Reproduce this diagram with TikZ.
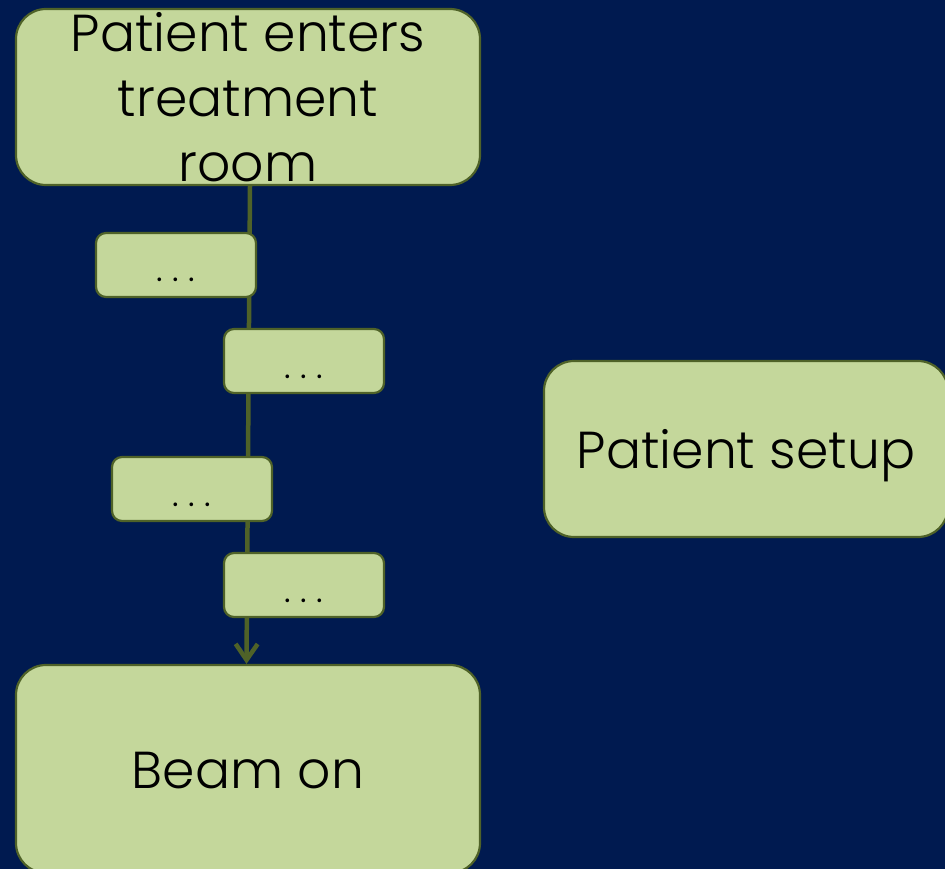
\documentclass[tikz,border=0pt]{standalone}
\usepackage{fontspec}
\setmainfont{Poppins Light}
\usetikzlibrary{arrows.meta}
\definecolor{navy}{RGB}{0,26,80}
\definecolor{leaf}{RGB}{196,215,155}
\definecolor{olive}{RGB}{79,98,40}
\newcommand{\stepdots}{\raisebox{-17pt}[0pt][0pt]{%
  \makebox[16pt]{.}\makebox[16pt]{.}\makebox[16pt]{.}}}
\begin{document}
\begin{tikzpicture}[x=1pt,y=-1pt,
  stage/.style={draw=olive, fill=leaf, line width=2.2pt, rounded corners=30pt,
    inner sep=0pt, text=black, align=center,
    font=\fontsize{52pt}{65pt}\selectfont},
  substep/.style={draw=olive, fill=leaf, line width=2.2pt, rounded corners=10pt,
    inner sep=0pt, minimum width=160pt, minimum height=64pt, text=black,
    font=\fontsize{36pt}{40pt}\selectfont},
  flow/.style={draw=olive, line width=4.5pt,
    -{Straight Barb[length=16pt,width=22pt]}}]
  % canvas
  \clip (0,0) rectangle (945,869);
  \fill[navy] (0,0) rectangle (945,869);
  % main stages
  \node[stage, minimum width=464pt, minimum height=176pt] (enter) at (248,97)
    {\raisebox{45pt}[0pt][0pt]{\begin{tabular}[t]{@{}c@{}}Patient enters\\treatment\\room\end{tabular}}};
  \node[stage, minimum width=464pt, minimum height=208pt] (beam) at (248,769)
    {\raisebox{-19pt}[0pt][0pt]{Beam on}};
  \node[stage, minimum width=404pt, minimum height=176pt] (setup) at (746,449)
    {\raisebox{-19pt}[0pt][0pt]{Patient setup}};
  % main flow, passing behind the intermediate steps
  \draw[flow] ([xshift=2pt]enter.south) -- ([xshift=-1.5pt]beam.north);
  % intermediate steps
  \node[substep] (s1) at (176,265) {\stepdots};
  \node[substep] (s2) at (304,361) {\stepdots};
  \node[substep] (s3) at (192,489) {\stepdots};
  \node[substep] (s4) at (304,585) {\stepdots};
\end{tikzpicture}
\end{document}
